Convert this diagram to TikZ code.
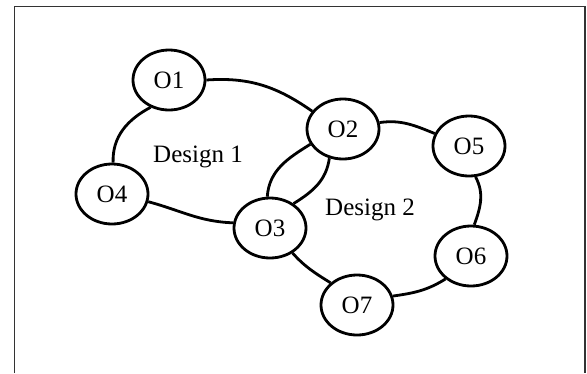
\documentclass[tikz,border=0pt]{standalone}
\usepackage{fontspec}
\setmainfont{Liberation Serif}
\usetikzlibrary{shapes.geometric}
\begin{document}
\begin{tikzpicture}[x=1pt,y=-1pt,
  obj/.style={ellipse,draw,line width=2.8pt,fill=white,minimum width=72pt,minimum height=60pt,inner sep=0pt,font=\fontsize{25}{29}\selectfont},
  link/.style={line width=2.8pt},
  lbl/.style={font=\fontsize{25}{29}\selectfont}]
\useasboundingbox (0,0) rectangle (587,373);
\draw[line width=1.3pt, black!80] (14.5,373) -- (14.5,6.5) -- (585,6.5) -- (585,373);
\node[obj] (O1) at (169,80) {O1};
\node[obj] (O2) at (343,129) {O2};
\node[obj] (O5) at (469,146) {O5};
\node[obj] (O4) at (112,194) {O4};
\node[obj] (O3) at (270,228) {O3};
\node[obj] (O6) at (471,256) {O6};
\node[obj] (O7) at (357,305) {O7};
\node[lbl] (d1) at (198,157) {Design 1};
\node[lbl] (d2) at (370,210) {Design 2};
\draw[link] (O1.0) to[out=4,in=145] (O2.150);
\draw[link] (O1.236) to[out=208,in=92] (O4.88);
\draw[link] (O4.-12) to[out=-15,in=178] (O3.172);
\draw[link] (O3.95) to[out=86,in=212] (O2.205);
\draw[link] (O2.-115) to[out=-98,in=32] (O3.46);
\draw[link] (O2.10) to[out=8,in=158] (O5.160);
\draw[link] (O5.-78) to[out=-62,in=70] (O6.84);
\draw[link] (O6.222) to[out=212,in=8] (O7.14);
\draw[link] (O7.140) to[out=148,in=-48] (O3.-48);
\end{tikzpicture}
\end{document}
